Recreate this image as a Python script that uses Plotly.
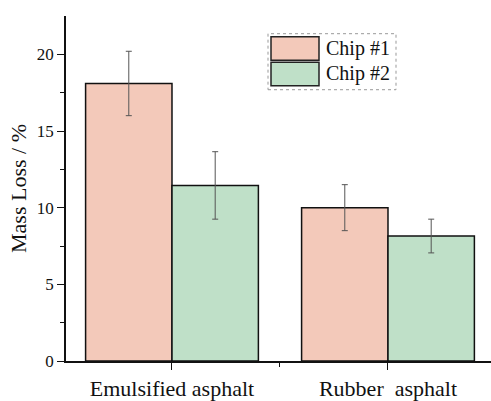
import plotly.graph_objects as go

categories = ["Emulsified asphalt", "Rubber\u00a0\u00a0asphalt"]
chip1 = [18.1, 10.0]
chip1_err = [2.1, 1.5]
chip2 = [11.45, 8.15]
chip2_err = [2.2, 1.1]
series_names = ["Chip #1", "Chip #2"]

W, H = 491, 401
L, R, T, B = 66, 0, 16, 34
FONT = "Liberation Serif"

xpos = list(range(len(categories)))
fig = go.Figure()
fig.add_trace(go.Bar(
    x=xpos, y=chip1, name=series_names[0], offsetgroup="a",
    marker=dict(color="#F3C9BA", line=dict(color="#111", width=1.5)),
    error_y=dict(type="data", array=chip1_err, color="#555", thickness=1, width=3),
    showlegend=False))
fig.add_trace(go.Bar(
    x=xpos, y=chip2, name=series_names[1], offsetgroup="b",
    marker=dict(color="#BFE0C8", line=dict(color="#111", width=1.5)),
    error_y=dict(type="data", array=chip2_err, color="#555", thickness=1, width=3),
    showlegend=False))

def px2paper(x, y):
    pw = W - L - R
    ph = H - T - B
    return (x - L) / pw, (H - B - y) / ph

# legend drawn manually (large swatches)
x0, y0 = px2paper(268, 34)
x1, y1 = px2paper(396, 91)
fig.add_shape(type="rect", xref="paper", yref="paper", x0=x0, y0=y1, x1=x1, y1=y0,
              line=dict(color="#999", width=1, dash="dot"), fillcolor="white", layer="above")
for i, (nm, col) in enumerate(zip(series_names, ["#F3C9BA", "#BFE0C8"])):
    top = 37 + i * 26
    sx0, sy0 = px2paper(271, top)
    sx1, sy1 = px2paper(319, top + 24)
    fig.add_shape(type="rect", xref="paper", yref="paper", x0=sx0, y0=sy1, x1=sx1, y1=sy0,
                  line=dict(color="#222", width=1.5), fillcolor=col, layer="above")
    tx, ty = px2paper(324, top + 12)
    fig.add_annotation(xref="paper", yref="paper", x=tx, y=ty, text=nm, showarrow=False,
                       xanchor="left", yanchor="middle",
                       font=dict(family=FONT, size=20, color="#111"))

fig.update_layout(
    width=W, height=H, margin=dict(l=L, r=R, t=T, b=B),
    paper_bgcolor="white", plot_bgcolor="white",
    barmode="group", bargap=0.2, bargroupgap=0,
    font=dict(family=FONT, color="#111"),
    xaxis=dict(range=[-0.4907, 1.4769], tickvals=xpos, ticktext=categories,
               showgrid=False, zeroline=False, showline=True, linecolor="#111", linewidth=1.5,
               ticks="outside", ticklen=7, tickwidth=1.2, tickcolor="#111",
               tickfont=dict(family=FONT, size=22, color="#111"),
               minor=dict(tickvals=[0.5], ticks="outside", ticklen=4, tickwidth=1.2, tickcolor="#111")),
    yaxis=dict(range=[0, 22.5], tickvals=[0, 5, 10, 15, 20],
               showgrid=False, zeroline=False, showline=True, linecolor="#111", linewidth=1.5,
               ticks="outside", ticklen=7, tickwidth=1.2, tickcolor="#111",
               tickfont=dict(family=FONT, size=17, color="#111"),
               minor=dict(tickvals=[2.5, 7.5, 12.5, 17.5], ticks="outside", ticklen=4,
                          tickwidth=1.2, tickcolor="#111"),
               title=dict(text="Mass Loss / %", font=dict(family=FONT, size=22, color="#111"),
                          standoff=4)),
)

fig.write_html("out.html")
